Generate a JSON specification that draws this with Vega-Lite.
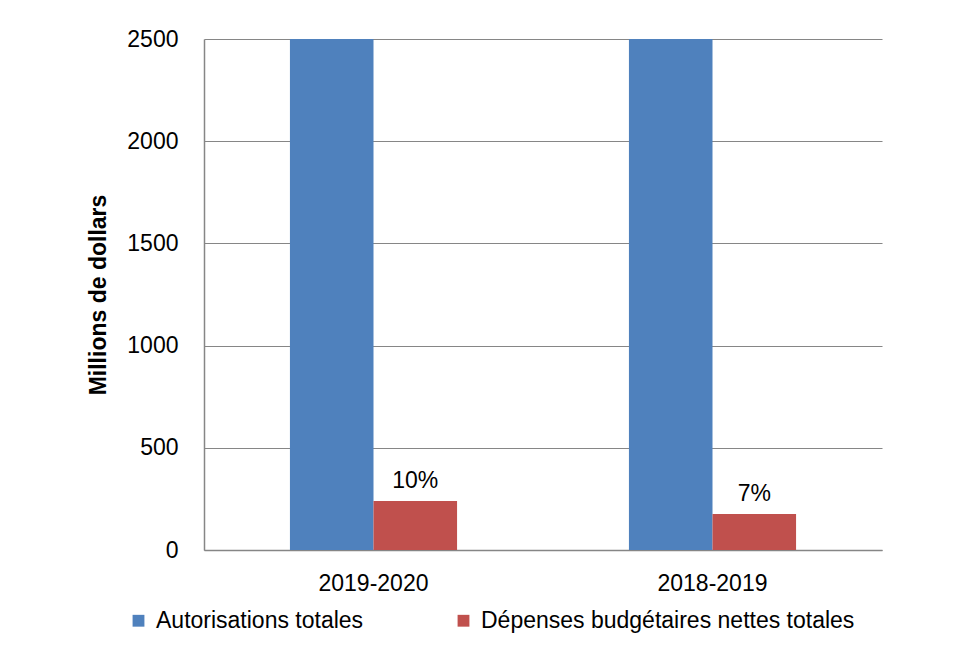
{
  "$schema": "https://vega.github.io/schema/vega-lite/v6.json",
  "autosize": {"type": "none"},
  "width": 678,
  "height": 511,
  "padding": {"left": 204, "top": 39, "right": 71, "bottom": 113},
  "background": "white",
  "config": {
    "font": "Liberation Sans",
    "view": {"stroke": null},
    "axis": {"labelFont": "Liberation Sans", "titleFont": "Liberation Sans", "labelColor": "#000000", "titleColor": "#000000"}
  },
  "data": {
    "values": [
      {"annee": "2019-2020", "serie": "Autorisations totales", "valeur": 2500, "pct": ""},
      {"annee": "2019-2020", "serie": "Dépenses budgétaires nettes totales", "valeur": 240, "pct": "10%"},
      {"annee": "2018-2019", "serie": "Autorisations totales", "valeur": 2500, "pct": ""},
      {"annee": "2018-2019", "serie": "Dépenses budgétaires nettes totales", "valeur": 176, "pct": "7%"}
    ]
  },
  "encoding": {
    "x": {
      "field": "annee", "type": "nominal", "sort": ["2019-2020", "2018-2019"],
      "scale": {"paddingInner": 0.507, "paddingOuter": 0.2535},
      "axis": {"title": null, "labelAngle": 0, "labelFontSize": 23, "labelPadding": 22, "ticks": false, "domainColor": "#868686", "domainWidth": 1.5, "grid": false}
    },
    "xOffset": {"field": "serie", "type": "nominal", "sort": ["Autorisations totales", "Dépenses budgétaires nettes totales"]},
    "y": {
      "field": "valeur", "type": "quantitative",
      "scale": {"domain": [0, 2500], "nice": false},
      "axis": {"title": "Millions de dollars", "format": "d", "titleFontSize": 23, "titleFontWeight": "bold", "titlePadding": 16, "labelFontSize": 23, "labelPadding": 26, "ticks": false, "values": [0, 500, 1000, 1500, 2000, 2500], "gridColor": "#868686", "gridWidth": 1.2, "domainColor": "#868686", "domainWidth": 1.5}
    }
  },
  "layer": [
    {
      "mark": {"type": "bar", "clip": true},
      "encoding": {
        "color": {
          "field": "serie", "type": "nominal",
          "sort": ["Autorisations totales", "Dépenses budgétaires nettes totales"],
          "scale": {"domain": ["Autorisations totales", "Dépenses budgétaires nettes totales"], "range": ["#4F81BD", "#C0504D"]},
          "legend": {"title": null, "orient": "none", "direction": "horizontal", "legendX": -77, "legendY": 570, "labelFontSize": 23, "labelFont": "Liberation Sans", "labelColor": "#000000", "symbolType": "square", "symbolSize": 140, "symbolStrokeWidth": 0, "columnPadding": 88, "labelLimit": 500, "labelOffset": 6}
        }
      }
    },
    {
      "mark": {"type": "text", "baseline": "bottom", "dy": -8, "fontSize": 23, "color": "#000000"},
      "encoding": {"text": {"field": "pct"}}
    }
  ]
}
